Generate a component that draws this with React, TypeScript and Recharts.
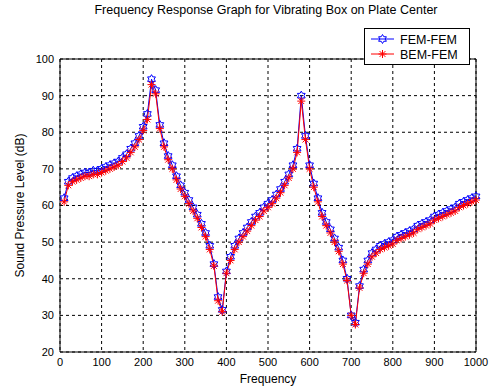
import React from 'react';
import { LineChart, Line, XAxis, YAxis, CartesianGrid, ReferenceLine, Legend } from 'recharts';

const frequencies = [10,20,30,40,50,60,70,80,90,100,110,120,130,140,150,160,170,180,190,200,210,220,230,240,250,260,270,280,290,300,310,320,330,340,350,360,370,380,390,400,410,420,430,440,450,460,470,480,490,500,510,520,530,540,550,560,570,580,590,600,610,620,630,640,650,660,670,680,690,700,710,720,730,740,750,760,770,780,790,800,810,820,830,840,850,860,870,880,890,900,910,920,930,940,950,960,970,980,990,1000];

const femFem = [62,66.5,67.5,68,68.5,69,69,69.5,69.5,70,70.5,71,71.5,72,73,74,75.5,77,79,81.5,85,94.5,91.5,82,77,73.5,71,68,65.5,63.5,61.5,59.5,57.5,55,52.5,49,44,35,31.5,42,46,49,51,52.5,54,55.5,57,58,59.5,60.5,61.5,63,64.5,66.5,68.5,71,75.5,90,79,71,66,62,58,55.5,53.5,51,48.5,45,40,30,28,38,42.5,45,47,48,49,49.5,50,50.5,51.5,52,52.5,53,53.5,54.5,55,55.5,56,57,57.5,58,58.5,59,59.5,60.5,61,61.5,62,62.5];

const bemFem = [61,65.5,66.5,67,67.5,68,68,68.5,68.5,69,69.5,70,70.5,71,72,73,74.5,76,78,80.5,83.5,93,90.5,81,76,72.5,70,67,64.5,62.5,60.5,58.5,56.5,54,51.5,48,43.5,34,31,41.5,45,48,50,51.5,53,54.5,56,57,58.5,59.5,60.5,62,63.5,65.5,67.5,70,74.5,88.5,78,70,65,61,57,54.5,52.5,50,47.5,44,39.5,30,27.5,37.5,41.5,44,46,47,48,48.5,49,49.5,50.5,51,51.5,52,52.5,53.5,54,54.5,55,56,56.5,57,57.5,58,58.5,59.5,60,60.5,61,61.5];

const xTicks = [0,100,200,300,400,500,600,700,800,900,1000];
const yTicks = [20,30,40,50,60,70,80,90,100];

const data = frequencies.map((f, i) => ({ f, fem: femFem[i], bem: bemFem[i] }));

const FONT = '"Liberation Sans", Arial, Helvetica, sans-serif';

function hexPoints(cx: number, cy: number, ro: number, ri: number) {
  const pts: string[] = [];
  for (let k = 0; k < 12; k++) {
    const a = -Math.PI / 2 + (k * Math.PI) / 6;
    const r = k % 2 === 0 ? ro : ri;
    pts.push(`${cx + r * Math.cos(a)},${cy + r * Math.sin(a)}`);
  }
  return pts.join(' ');
}

const HexDot = (props: any) => {
  const { cx, cy } = props;
  if (cx == null || cy == null) return null;
  return <polygon points={hexPoints(cx, cy, 4.5, 2.6)} fill="none" stroke="#0000ff" strokeWidth={1} />;
};

const StarDot = (props: any) => {
  const { cx, cy } = props;
  if (cx == null || cy == null) return null;
  const r = 4;
  const d = 2.9;
  return (
    <g stroke="#ff0000" strokeWidth={1}>
      <line x1={cx - r} y1={cy} x2={cx + r} y2={cy} />
      <line x1={cx} y1={cy - r} x2={cx} y2={cy + r} />
      <line x1={cx - d} y1={cy - d} x2={cx + d} y2={cy + d} />
      <line x1={cx - d} y1={cy + d} x2={cx + d} y2={cy - d} />
    </g>
  );
};

const LegendBox = () => (
  <svg width={106} height={37} style={{ display: 'block' }}>
    <rect x={0.5} y={0.5} width={105} height={36} fill="#fff" stroke="#000" strokeWidth={1} />
    <line x1={7} y1={11} x2={30} y2={11} stroke="#0000ff" strokeWidth={1} />
    <polygon points={hexPoints(18.5, 11, 4.5, 2.6)} fill="none" stroke="#0000ff" strokeWidth={1} />
    <text x={36} y={15.5} fontFamily={FONT} fontSize={12.5} fill="#000">FEM-FEM</text>
    <line x1={7} y1={26} x2={30} y2={26} stroke="#ff0000" strokeWidth={1} />
    <g stroke="#ff0000" strokeWidth={1}>
      <line x1={14.5} y1={26} x2={22.5} y2={26} />
      <line x1={18.5} y1={22} x2={18.5} y2={30} />
      <line x1={15.6} y1={23.1} x2={21.4} y2={28.9} />
      <line x1={15.6} y1={28.9} x2={21.4} y2={23.1} />
    </g>
    <text x={36} y={30.5} fontFamily={FONT} fontSize={12.5} fill="#000">BEM-FEM</text>
  </svg>
);

export default function App() {
  return (
    <div style={{ position: 'absolute', left: 0, top: 0, width: 492, height: 388, background: '#fff' }}>
      <LineChart width={492} height={388} data={data} margin={{ top: 22, right: 16, left: 0, bottom: 0 }}>
        <text x={266} y={14} textAnchor="middle" fontFamily={FONT} fontSize={12.5} fill="#000">
          Frequency Response Graph for Vibrating Box on Plate Center
        </text>
        <CartesianGrid stroke="#000" strokeDasharray="3 3" strokeWidth={1} />
        <XAxis
          dataKey="f"
          type="number"
          domain={[0, 1000]}
          ticks={xTicks}
          interval={0}
          stroke="#000"
          tick={{ fill: '#000', fontSize: 11, fontFamily: FONT }}
          tickLine={false}
          tickMargin={0}
          height={36}
          label={{ value: 'Frequency', position: 'insideBottom', offset: 5, fill: '#000', fontSize: 12, fontFamily: FONT }}
        />
        <YAxis
          type="number"
          domain={[20, 100]}
          ticks={yTicks}
          interval={0}
          stroke="#000"
          width={60}
          tick={{ fill: '#000', fontSize: 11, fontFamily: FONT }}
          tickLine={false}
          tickMargin={0}
          label={{ value: 'Sound Pressure Level (dB)', angle: -90, position: 'insideLeft', offset: 20, fill: '#000', fontSize: 12, fontFamily: FONT, style: { textAnchor: 'middle' } }}
        />
        <ReferenceLine y={100} stroke="#000" strokeWidth={1} />
        <ReferenceLine x={1000} stroke="#000" strokeWidth={1} />
        <Legend
          verticalAlign="top"
          align="right"
          content={() => <LegendBox />}
          wrapperStyle={{ position: 'absolute', left: 364, top: 28, width: 106, height: 37 }}
        />
        <Line dataKey="fem" stroke="#0000ff" strokeWidth={1} dot={<HexDot />} isAnimationActive={false} />
        <Line dataKey="bem" stroke="#ff0000" strokeWidth={1} dot={<StarDot />} isAnimationActive={false} />
      </LineChart>
    </div>
  );
}
